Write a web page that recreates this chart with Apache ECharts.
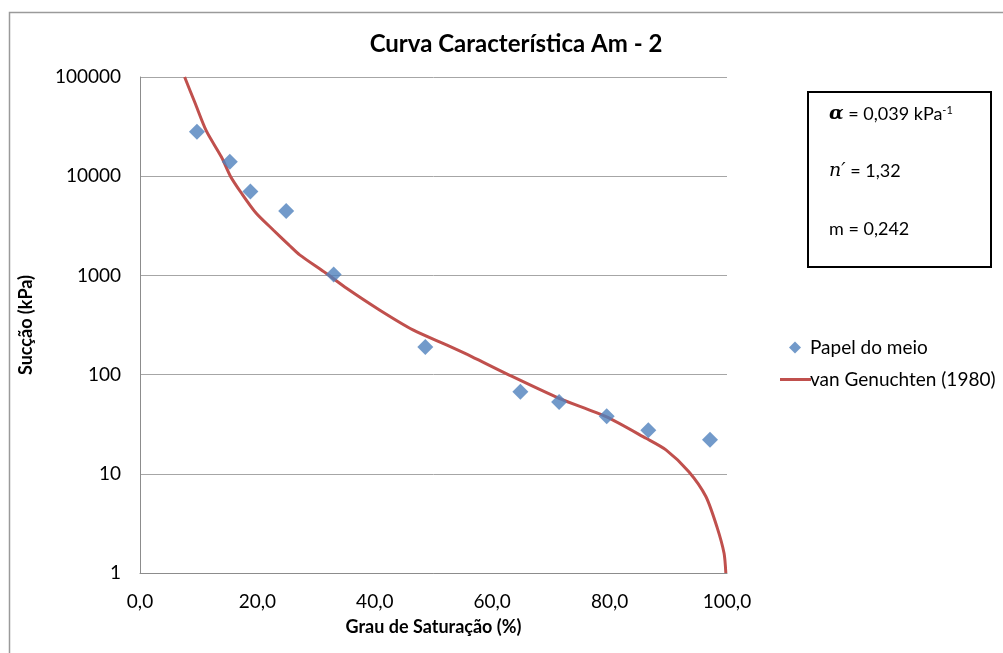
<!DOCTYPE html>
<html>
<head>
<meta charset="utf-8">
<script src="https://cdn.jsdelivr.net/npm/echarts@6/dist/echarts.min.js"></script>
<style>
  html, body { margin: 0; padding: 0; background: #fff; }
  #chart { width: 1003px; height: 653px; }
</style>
</head>
<body>
<div id="chart"></div>
<script>
// Measured points: degree of saturation (%) and suction (kPa)
const saturationMeasured = [9.7, 15.3, 18.8, 24.9, 33.0, 48.6, 64.8, 71.4, 79.5, 86.6, 97.1];
const suctionMeasured = [28000, 14000, 7000, 4450, 1020, 190, 67, 53, 38, 27.5, 22];

// van Genuchten (1980) fitted curve, read point by point
const saturationFit = [7.6, 9.4, 11.3, 13.9, 15.4, 17.3, 19.8, 22.7, 25.4, 27.2, 31.7, 35.2, 40.8, 46.5, 52.2, 56.5, 62.9, 71.4, 79.4, 86.2, 89.6, 93.5, 96.4, 98.3, 99.5, 99.8];
const suctionFit = [100000, 54300, 28600, 15500, 10000, 6730, 4230, 2870, 2020, 1610, 1050, 741, 448, 282, 199, 152, 99, 57.7, 37.7, 22.8, 17.4, 10.5, 5.9, 2.9, 1.58, 1];

// Axis ranges
const xMin = 0, xMax = 100, xStep = 20;
const yMin = 1, yMax = 100000;

const seriesNames = ['Papel do meio', 'van Genuchten (1980)'];

const font = 'Lato, "Open Sans", sans-serif';

const zip = (xs, ys) => xs.map((x, i) => [x, ys[i]]);

const chart = echarts.init(document.getElementById('chart'), null, { renderer: 'canvas' });

chart.setOption({
  backgroundColor: '#ffffff',
  animation: false,
  title: {
    text: 'Curva Característica Am - 2',
    left: 511,
    top: 27,
    textAlign: 'center',
    textStyle: { fontFamily: font, fontSize: 24, fontWeight: 'bold', color: '#000' }
  },
  grid: { left: 140, top: 77, width: 587, height: 496, containLabel: false },
  xAxis: {
    type: 'value',
    min: xMin, max: xMax, interval: xStep,
    name: 'Grau de Saturação (%)',
    nameLocation: 'middle',
    nameGap: 45,
    nameTextStyle: { fontFamily: font, fontSize: 18, fontWeight: 'bold', color: '#000' },
    axisLine: { show: true, lineStyle: { color: '#8c8c8c', width: 1 } },
    axisTick: { show: false },
    splitLine: { show: false },
    axisLabel: {
      fontFamily: font, fontSize: 19, color: '#000', margin: 19,
      formatter: v => v.toFixed(1).replace('.', ',')
    }
  },
  yAxis: {
    type: 'log',
    logBase: 10,
    min: yMin, max: yMax,
    name: 'Sucção (kPa)',
    nameLocation: 'middle',
    nameGap: 91,
    nameRotate: 90,
    nameTextStyle: { fontFamily: font, fontSize: 18, fontWeight: 'bold', color: '#000', padding: [0, 0, 14, 0] },
    axisLine: { show: true, lineStyle: { color: '#8c8c8c', width: 1 } },
    axisTick: { show: false },
    splitLine: { show: true, lineStyle: { color: '#a6a6a6', width: 1 } },
    axisLabel: {
      fontFamily: font, fontSize: 19, color: '#000', margin: 19,
      formatter: v => String(Math.round(v))
    }
  },
  legend: [
    {
      data: [{ name: seriesNames[0], icon: 'diamond' }],
      left: 784, top: 333,
      itemWidth: 12, itemHeight: 12,
      itemGap: 0,
      textStyle: { fontFamily: font, fontSize: 19, color: '#000', padding: [0, 0, 0, 4] },
      selectedMode: false
    },
    {
      data: [{ name: seriesNames[1], icon: 'rect', itemStyle: { color: '#c0504d' } }],
      left: 775, top: 365,
      itemWidth: 31, itemHeight: 3,
      itemGap: 0,
      textStyle: { fontFamily: font, fontSize: 19, color: '#000', padding: [0, 0, 0, -6] },
      selectedMode: false
    }
  ],
  graphic: [
    {
      type: 'rect',
      left: 7, top: 10, silent: true,
      shape: { x: 0.5, y: 0.5, width: 1010, height: 700 },
      style: { fill: 'none', stroke: '#9a9a9a', lineWidth: 1.5 }
    },
    {
      type: 'rect', silent: true,
      shape: { x: 808, y: 92, width: 183, height: 175 },
      style: { fill: '#fff', stroke: '#000', lineWidth: 2 }
    },
    {
      type: 'text', silent: true,
      x: 829, y: 105,
      style: {
        text: '{a|α}{t| = 0,039 kPa}{s|-1}',
        rich: {
          a: { fontFamily: '"DejaVu Serif", serif', fontStyle: 'italic', fontWeight: 'bold', fontSize: 19, fill: '#000' },
          t: { fontFamily: font, fontSize: 18, fill: '#000' },
          s: { fontFamily: font, fontSize: 11, fill: '#000', verticalAlign: 'top' }
        }
      }
    },
    {
      type: 'text', silent: true,
      x: 829, y: 162,
      style: {
        text: '{n|n′}{t| = 1,32}',
        rich: {
          n: { fontFamily: '"DejaVu Serif", serif', fontStyle: 'italic', fontSize: 19, fill: '#000' },
          t: { fontFamily: font, fontSize: 18, fill: '#000' }
        }
      }
    },
    {
      type: 'text', silent: true,
      x: 829, y: 220,
      style: { text: 'm = 0,242', fontFamily: font, fontSize: 18, fill: '#000' }
    }
  ],
  series: [
    {
      name: seriesNames[0],
      type: 'scatter',
      symbol: 'diamond',
      symbolSize: 16,
      itemStyle: { color: '#4f81bd' },
      data: zip(saturationMeasured, suctionMeasured),
      z: 3
    },
    {
      name: seriesNames[1],
      type: 'line',
      symbol: 'none',
      smooth: 0.25,
      lineStyle: { color: '#c0504d', width: 3 },
      itemStyle: { color: '#c0504d' },
      data: zip(saturationFit, suctionFit),
      z: 2
    }
  ]
});
</script>
</body>
</html>
